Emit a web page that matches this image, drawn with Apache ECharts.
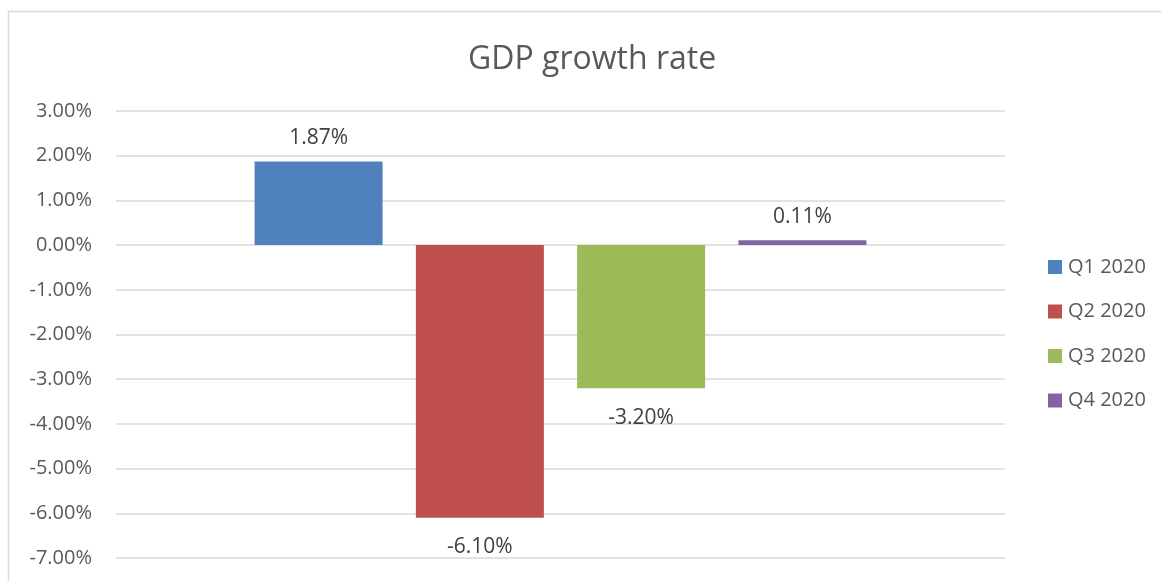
<!DOCTYPE html>
<html>
<head>
<meta charset="utf-8">
<script src="https://cdn.jsdelivr.net/npm/echarts@6/dist/echarts.min.js"></script>
<style>html,body{margin:0;padding:0;background:#fff}#c{width:1161px;height:581px}</style>
</head>
<body>
<div id="c"></div>
<script>
const categories = ['GDP'];
const seriesNames = ['Q1 2020', 'Q2 2020', 'Q3 2020', 'Q4 2020'];
const seriesValues = [1.87, -6.10, -3.20, 0.11];
const colors = ['#4F81BD', '#C0504D', '#9BBB59', '#8064A2'];

const FONT = 'Open Sans';
const chart = echarts.init(document.getElementById('c'));
chart.setOption({
  backgroundColor: '#fff',
  animation: false,
  title: {
    text: 'GDP growth rate', left: 463, top: 39,
    textStyle: { fontFamily: FONT, fontSize: 32, fontWeight: 'normal', color: '#595959' }
  },
  graphic: [{
    type: 'rect', shape: { x: 8.5, y: 11.5, width: 1200, height: 700 },
    style: { fill: 'none', stroke: '#D9D9D9', lineWidth: 1.5 }, silent: true
  }],
  legend: {
    orient: 'vertical', left: 1043, top: 252,
    itemWidth: 14, itemHeight: 14, itemGap: 24.5,
    icon: 'rect',
    textStyle: { fontFamily: FONT, fontSize: 20, lineHeight: 20, color: '#595959', padding: [0, 0, 0, 1] },
    data: seriesNames
  },
  grid: { left: 116, right: 156, top: 111, bottom: 23 },
  xAxis: {
    type: 'category', data: categories,
    axisLine: { show: false }, axisTick: { show: false }, axisLabel: { show: false }
  },
  yAxis: {
    type: 'value', min: -7, max: 3, interval: 1,
    axisLine: { show: false }, axisTick: { show: false },
    axisLabel: { margin: 24, fontFamily: FONT, fontSize: 20, color: '#595959',
      formatter: v => v.toFixed(2) + '%' },
    splitLine: { lineStyle: { color: '#D9D9D9', width: 1.5 } }
  },
  series: seriesNames.map((name, i) => ({
    name, type: 'bar', barWidth: 128, barGap: '26%',
    itemStyle: { color: colors[i] },
    data: [seriesValues[i]],
    label: {
      show: true,
      position: seriesValues[i] >= 0 ? 'top' : 'bottom',
      distance: seriesValues[i] >= 0 ? 13 : 19,
      fontFamily: FONT, fontSize: 21, color: '#404040',
      formatter: p => p.value.toFixed(2) + '%'
    }
  }))
});
</script>
</body>
</html>
